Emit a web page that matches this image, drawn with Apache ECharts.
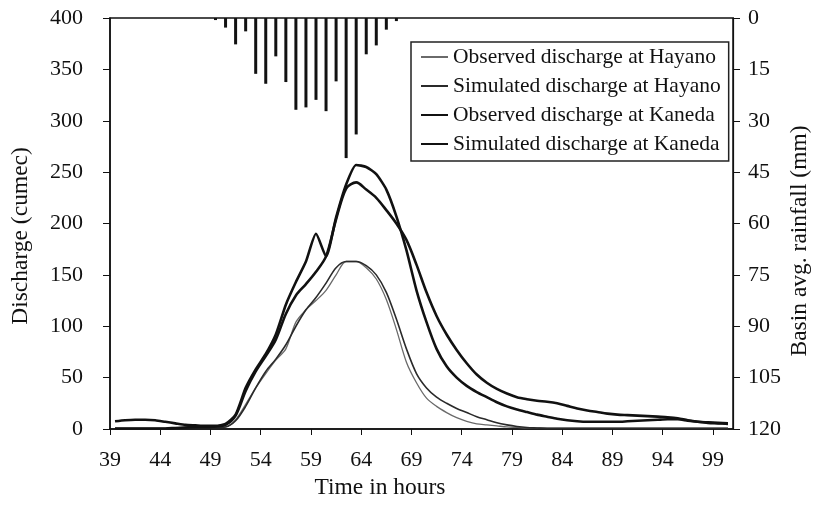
<!DOCTYPE html>
<html>
<head>
<meta charset="utf-8">
<script src="https://cdn.jsdelivr.net/npm/echarts@6/dist/echarts.min.js"></script>
<style>
  html, body { margin: 0; padding: 0; background: #fff; }
  #chart { width: 814px; height: 509px; }
</style>
</head>
<body>
<div id="chart"></div>
<script>
// Hourly discharge samples (plotted at mid-hour)
const hours = [39.5, 40.5, 41.5, 42.5, 43.5, 44.5, 45.5, 46.5, 47.5, 48.5,
  49.5, 50.5, 51.5, 52.5, 53.5, 54.5, 55.5, 56.5, 57.5, 58.5,
  59.5, 60.5, 61.5, 62.5, 63.5, 64.5, 65.5, 66.5, 67.5, 68.5,
  69.5, 70.5, 71.5, 72.5, 73.5, 74.5, 75.5, 76.5, 77.5, 78.5,
  79.5, 80.5, 81.5, 82.5, 83.5, 84.5, 85.5, 86.5, 87.5, 88.5,
  89.5, 90.5, 91.5, 92.5, 93.5, 94.5, 95.5, 96.5, 97.5, 98.5,
  99.5, 100.5];

const obsHayano = [0.5, 0.5, 0.5, 0.5, 0.5, 0.5, 1, 1.5, 1.5, 1.5,
  1.5, 2, 9, 24, 40, 54, 67, 78, 104, 116,
  125, 135, 150, 163, 163, 157, 146, 126, 97, 65,
  45, 30, 22, 16, 11, 7.5, 5, 4, 3, 2,
  1.5, 1, 1, 1, 1, 1, 1, 1, 1, 1,
  1, 1, 1, 1, 1, 1, 1, 1, 1, 1,
  1, 1];

const simHayano = [0.5, 0.5, 0.5, 0.5, 0.5, 0.5, 1, 1.5, 1.5, 1.5,
  1.5, 2, 8, 22, 40, 56, 68, 82, 100, 116,
  128, 142, 157, 163, 163, 159, 150, 133, 107, 78,
  54, 40, 31, 25, 20, 16, 12, 9, 6, 4,
  2.5, 1.5, 1, 0.5, 0.5, 0.5, 0.5, 0.5, 0.5, 0.5,
  0.5, 0.5, 0.5, 0.5, 0.5, 0.5, 0.5, 0.5, 0.5, 0.5,
  0.5, 0.5];

const obsKaneda = [7.5, 8.5, 9, 9, 8.5, 7, 5.5, 4, 3.5, 3,
  3, 5, 14, 40, 58, 73, 92, 121, 143, 163,
  190, 168, 206, 238, 257, 255, 248, 233, 207, 174,
  135, 104, 78, 61, 50, 42, 36, 31, 26, 22,
  19, 16.5, 14, 12, 10, 8.5, 7.5, 7, 7, 7,
  7, 7.5, 8, 8.5, 9, 9.5, 9.5, 8, 7, 6.5,
  6, 5.5];

const simKaneda = [0.5, 0.5, 0.5, 0.5, 0.5, 0.5, 1, 1.5, 2, 2,
  2.5, 4, 13, 37, 56, 71, 87, 112, 130, 141,
  153, 168, 204, 234, 240, 233, 225, 213, 200, 184,
  160, 133, 110, 92, 77, 64, 53, 45, 39, 34.5,
  31, 29, 27.5, 26.5, 25, 22.5, 20, 18, 16.5, 15,
  14, 13.5, 13, 12.5, 12, 11.5, 10.5, 8.5, 7, 6,
  5.5, 5];

// Basin average hourly rainfall (mm)
const rainHours = [49.5, 50.5, 51.5, 52.5, 53.5, 54.5, 55.5, 56.5, 57.5, 58.5,
  59.5, 60.5, 61.5, 62.5, 63.5, 64.5, 65.5, 66.5, 67.5];
const rainfall = [0.6, 2.8, 7.7, 3.9, 16.3, 19.2, 11.2, 18.7, 26.8, 26.1,
  23.9, 27.2, 18.5, 40.9, 34.0, 10.6, 8.0, 3.4, 0.9];

// Axis ticks
const timeTicks = [39, 44, 49, 54, 59, 64, 69, 74, 79, 84, 89, 94, 99];

const FONT = "'Liberation Serif', 'Times New Roman', serif";
const INK = '#111';
const TICK_SIZE = 22;
const TITLE_SIZE = 23.5;

const pairs = (xs, ys) => xs.map((x, i) => [x, ys[i]]);

const chart = echarts.init(document.getElementById('chart'), null, { renderer: 'canvas' });

const titleText = (text, x, y, rotation) => ({
  type: 'text', x, y, rotation,
  style: {
    text, fill: INK, font: TITLE_SIZE + 'px ' + FONT,
    textAlign: 'center', textVerticalAlign: 'middle'
  }
});

chart.setOption({
  animation: false,
  backgroundColor: '#fff',
  textStyle: { fontFamily: FONT, color: INK },
  grid: {
    left: 110, right: 81, top: 18, bottom: 80,
    show: true, borderColor: INK, borderWidth: 1.5
  },
  graphic: [
    titleText('Discharge (cumec)', 21, 236, Math.PI / 2),
    titleText('Basin avg. rainfall (mm)', 800, 241, Math.PI / 2),
    titleText('Time in hours', 380, 488, 0)
  ],
  legend: {
    orient: 'vertical',
    left: 411, top: 42,
    padding: [4, 8, 6, 9],
    itemGap: 7,
    itemWidth: 27,
    itemHeight: 12,
    borderColor: '#222',
    borderWidth: 1.5,
    itemStyle: { opacity: 0 },
    textStyle: { fontFamily: FONT, fontSize: 21.5, color: INK },
    data: ['Observed discharge at Hayano', 'Simulated discharge at Hayano',
           'Observed discharge at Kaneda', 'Simulated discharge at Kaneda']
  },
  xAxis: {
    type: 'value',
    min: 39, max: 101,
    axisLine: { lineStyle: { color: INK, width: 1.5 } },
    axisTick: { show: true, length: 6, customValues: timeTicks, lineStyle: { color: INK } },
    axisLabel: { customValues: timeTicks, margin: 20, fontFamily: FONT, fontSize: TICK_SIZE, color: INK },
    splitLine: { show: false }
  },
  yAxis: [{
    type: 'value',
    min: 0, max: 400, interval: 50,
    axisLine: { show: true, lineStyle: { color: INK, width: 1.5 } },
    axisTick: { show: true, length: 7, lineStyle: { color: INK } },
    axisLabel: { margin: 27, fontFamily: FONT, fontSize: TICK_SIZE, color: INK },
    splitLine: { show: false }
  }, {
    type: 'value',
    min: 0, max: 120, interval: 15,
    inverse: true,
    position: 'right',
    axisLine: { show: true, lineStyle: { color: INK, width: 1.2 } },
    axisTick: { show: true, length: 7, lineStyle: { color: INK } },
    axisLabel: { margin: 15, fontFamily: FONT, fontSize: TICK_SIZE, color: INK },
    splitLine: { show: false }
  }],
  series: [
    {
      name: 'Basin avg. rainfall',
      type: 'bar',
      yAxisIndex: 1,
      barWidth: 3,
      itemStyle: { color: INK },
      data: pairs(rainHours, rainfall)
    },
    {
      name: 'Observed discharge at Hayano',
      type: 'line', symbol: 'none', smooth: 0.3,
      lineStyle: { color: '#6a6a6a', width: 1.3 },
      itemStyle: { color: '#6a6a6a' },
      data: pairs(hours, obsHayano)
    },
    {
      name: 'Simulated discharge at Hayano',
      type: 'line', symbol: 'none', smooth: 0.3,
      lineStyle: { color: '#2a2a2a', width: 1.6 },
      itemStyle: { color: '#2a2a2a' },
      data: pairs(hours, simHayano)
    },
    {
      name: 'Observed discharge at Kaneda',
      type: 'line', symbol: 'none', smooth: 0.2,
      lineStyle: { color: INK, width: 2.6 },
      itemStyle: { color: INK },
      data: pairs(hours, obsKaneda)
    },
    {
      name: 'Simulated discharge at Kaneda',
      type: 'line', symbol: 'none', smooth: 0.3,
      lineStyle: { color: INK, width: 2.6 },
      itemStyle: { color: INK },
      data: pairs(hours, simKaneda)
    }
  ]
});
</script>
</body>
</html>
